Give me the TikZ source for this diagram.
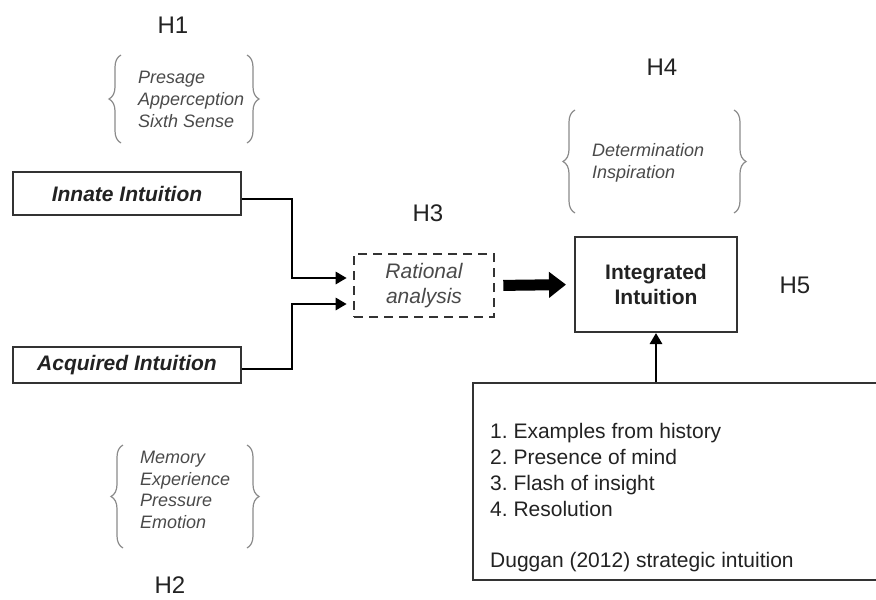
\documentclass[tikz,border=0pt]{standalone}
\usepackage{fontspec}
\setmainfont{Liberation Sans}
\usetikzlibrary{arrows.meta,decorations.pathreplacing,calc}
\frenchspacing
\definecolor{boxline}{HTML}{333333}
\definecolor{txt}{HTML}{222222}
\definecolor{soft}{HTML}{4A4A4A}
\definecolor{bracec}{HTML}{8A8A8A}
\tikzset{
  box/.style={draw=boxline, line width=2pt, inner sep=0pt, text=txt},
  dashbox/.style={draw=boxline, line width=2.6pt, dash pattern=on 9pt off 6pt, inner sep=0pt, text=soft},
  conn/.style={draw=black, line width=2.8pt, -{Triangle[length=11pt,width=12pt]}},
  bigarrow/.style={draw=black, line width=11pt, -{Triangle[length=17pt,width=25pt]}},
  hlabel/.style={font=\fontsize{24}{28}\selectfont, text=txt, inner sep=0pt},
  itemtxt/.style={font=\fontsize{18}{21.5}\selectfont\itshape, text=soft, inner sep=0pt, anchor=base west},
  listtxt/.style={font=\fontsize{21}{26}\selectfont, text=txt, inner sep=0pt, anchor=base west},
  bracestyle/.style={draw=bracec, line width=1.2pt, decorate, decoration={brace, amplitude=#1}},
}
\begin{document}
\begin{tikzpicture}[x=1pt, y=-1pt]
\useasboundingbox (0,0) rectangle (876,600);

% boxes
\node[box, minimum width=228pt, minimum height=43pt,
      font=\fontsize{21}{25}\selectfont\bfseries\itshape] (innate) at (127,193.5) {Innate Intuition};
\node[box, minimum width=228pt, minimum height=36pt,
      font=\fontsize{21}{25}\selectfont\bfseries\itshape] (acquired) at (127,365) {Acquired Intuition};
\node[dashbox, minimum width=140pt, minimum height=63pt, align=center,
      font=\fontsize{21}{25}\selectfont\itshape] (rational) at (424,285.5) {Rational\\analysis};
\node[box, minimum width=162pt, minimum height=95pt, align=center,
      font=\fontsize{21}{25}\selectfont\bfseries] (integrated) at (656,284.5) {Integrated\\Intuition};
\node[box, minimum width=420pt, minimum height=197pt] (duggan) at (683,481.5) {};

% list text in Duggan box
\node[listtxt] (l1) at (490,438.5) {1. Examples from history};
\node[listtxt] (l2) at (490,464.5) {2. Presence of mind};
\node[listtxt] (l3) at (490,490.5) {3. Flash of insight};
\node[listtxt] (l4) at (490,516.5) {4. Resolution};
\node[listtxt] (l5) at (490,567.5) {Duggan (2012) strategic intuition};

% hypothesis labels
\node[hlabel] (h1) at (173,25) {H1};
\node[hlabel] (h2) at (170,585) {H2};
\node[hlabel] (h3) at (428,213) {H3};
\node[hlabel] (h4) at (662,67) {H4};
\node[hlabel] (h5) at (795,285) {H5};

% H1 group
\node[itemtxt] (p1) at (138,83.5) {Presage};
\node[itemtxt] (p2) at (138,105.5) {Apperception};
\node[itemtxt] (p3) at (138,127) {Sixth Sense};
\coordinate (b1t) at (121,55);
\coordinate (b1b) at (121,143);
\coordinate (b1rt) at (247,55);
\coordinate (b1rb) at (247,143);
\draw[bracestyle=12pt] (b1b) -- (b1t);
\draw[bracestyle=12pt] (b1rt) -- (b1rb);

% H2 group
\node[itemtxt] (m1) at (140,463.5) {Memory};
\node[itemtxt] (m2) at (140,485.5) {Experience};
\node[itemtxt] (m3) at (140,506.5) {Pressure};
\node[itemtxt] (m4) at (140,528.5) {Emotion};
\coordinate (b2t) at (123,445);
\coordinate (b2b) at (123,548);
\coordinate (b2rt) at (247,445);
\coordinate (b2rb) at (247,548);
\draw[bracestyle=12pt] (b2b) -- (b2t);
\draw[bracestyle=12pt] (b2rt) -- (b2rb);

% H4 group
\node[itemtxt] (d1) at (592,156.5) {Determination};
\node[itemtxt] (d2) at (592,178.5) {Inspiration};
\coordinate (b4t) at (575,110);
\coordinate (b4b) at (575,213);
\coordinate (b4rt) at (734,110);
\coordinate (b4rb) at (734,213);
\draw[bracestyle=12pt] (b4b) -- (b4t);
\draw[bracestyle=12pt] (b4rt) -- (b4rb);

% connectors
\coordinate (bend) at (292,0);
\coordinate (r1) at ([yshift=7.5pt]rational.west);
\coordinate (r2) at ([yshift=-18.5pt]rational.west);
\coordinate (iout) at ([yshift=-5.5pt]innate.east);
\coordinate (aout) at ([yshift=-4pt]acquired.east);
\draw[conn, shorten >=6pt] (iout) -| (bend |- r1) -- (r1);
\draw[conn, shorten >=6pt] (aout) -| (bend |- r2) -- (r2);
\draw[bigarrow, shorten <=8pt, shorten >=8pt] (rational.east) -- (integrated.west);
\draw[conn] (integrated.south |- duggan.north) -- (integrated.south);
\end{tikzpicture}
\end{document}
